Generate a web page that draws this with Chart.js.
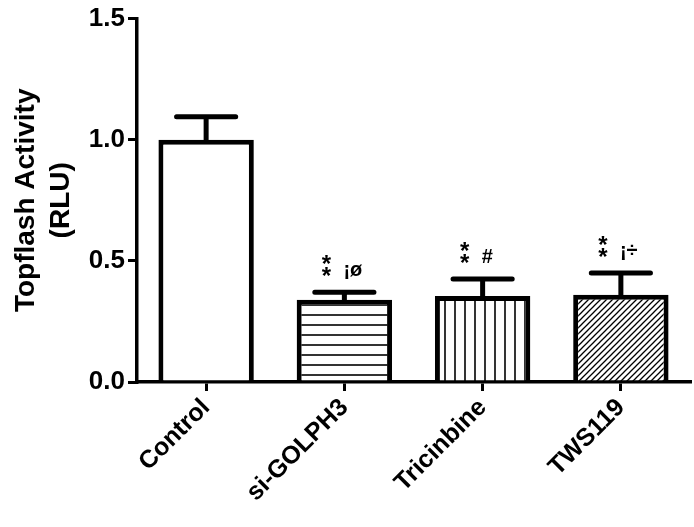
<!DOCTYPE html>
<html>
<head>
<meta charset="utf-8">
<script src="https://cdn.jsdelivr.net/npm/chart.js@4.4.0/dist/chart.umd.min.js"></script>
<style>
  html, body { margin: 0; padding: 0; background: #fff; }
  #wrap { width: 694px; height: 527px; }
</style>
</head>
<body>
<div id="wrap"><canvas id="chart"></canvas></div>
<script>
const categories = ["Control", "si-GOLPH3", "Tricinbine", "TWS119"];
const means = [1.0, 0.34, 0.355, 0.36];
const errors = [0.095, 0.03, 0.07, 0.09];
const hasStars = [false, true, true, true];
const sigMarks = ["", "¡ø", "#", "¡÷"];
const yTicks = [0, 0.5, 1.0, 1.5];

const FONT = "'Liberation Sans', Arial, sans-serif";

function makePattern(kind) {
    const c = document.createElement("canvas");
    const s = kind === "diag" ? 6 : 10;
    c.width = s; c.height = s;
    const g = c.getContext("2d");
    g.fillStyle = "#fff";
    g.fillRect(0, 0, s, s);
    g.strokeStyle = "#000";
    g.lineWidth = kind === "diag" ? 1.3 : 1.6;
    g.beginPath();
    if (kind === "h") { g.moveTo(0, 5); g.lineTo(s, 5); }
    if (kind === "v") { g.moveTo(5, 0); g.lineTo(5, s); }
    if (kind === "diag") {
        g.moveTo(0, s); g.lineTo(s, 0);
        g.moveTo(-1, 1); g.lineTo(1, -1);
        g.moveTo(s - 1, s + 1); g.lineTo(s + 1, s - 1);
    }
    g.stroke();
    return g.createPattern(c, "repeat");
}

const fills = ["#fff", makePattern("h"), makePattern("v"), makePattern("diag")];

// error bars (upper only) + significance marks
const errorBars = {
    id: "errorBars",
    afterDatasetsDraw(chart) {
        const ctx = chart.ctx;
        const y = chart.scales.y;
        const meta = chart.getDatasetMeta(0);
        ctx.save();
        ctx.strokeStyle = "#000";
        ctx.fillStyle = "#000";
        ctx.lineWidth = 5;
        ctx.lineCap = "round";
        meta.data.forEach((bar, i) => {
            const top = y.getPixelForValue(means[i] + errors[i]);
            const base = y.getPixelForValue(means[i]);
            const half = bar.width * 0.31;
            ctx.beginPath();
            ctx.moveTo(bar.x, base);
            ctx.lineTo(bar.x, top);
            ctx.moveTo(bar.x - half, top);
            ctx.lineTo(bar.x + half, top);
            ctx.stroke();
            if (hasStars[i]) {
                ctx.font = "bold 24px " + FONT;
                ctx.textAlign = "center";
                ctx.textBaseline = "middle";
                ctx.fillText("*", bar.x - 18, top - 27);
                ctx.fillText("*", bar.x - 18, top - 15);
                ctx.font = "bold 20px " + FONT;
                ctx.textAlign = "left";
                ctx.textBaseline = "alphabetic";
                ctx.fillText(sigMarks[i], bar.x - 1, top - 16);
            }
        });
        ctx.restore();
    }
};

new Chart(document.getElementById("chart"), {
    type: "bar",
    data: {
        labels: categories,
        datasets: [{
            data: means,
            backgroundColor: fills,
            borderColor: "#000",
            borderWidth: 5,
            borderSkipped: "start",
            categoryPercentage: 1,
            barPercentage: 0.69
        }]
    },
    options: {
        responsive: true,
        maintainAspectRatio: false,
        animation: false,
        layout: { padding: { top: 18, right: 4, left: 9 } },
        plugins: {
            legend: { display: false },
            tooltip: { enabled: false }
        },
        scales: {
            x: {
                grid: {
                    offset: false,
                    drawOnChartArea: false,
                    color: "#000",
                    lineWidth: 3,
                    tickLength: 9
                },
                border: { color: "#000", width: 3.5 },
                ticks: {
                    color: "#000",
                    minRotation: 45,
                    maxRotation: 45,
                    padding: 2,
                    font: { family: FONT, size: 25, weight: "bold" }
                },
                afterFit(scale) { scale.height = 145; }
            },
            y: {
                min: 0,
                max: 1.5,
                afterBuildTicks(scale) { scale.ticks = yTicks.map(v => ({ value: v })); },
                grid: {
                    drawOnChartArea: false,
                    color: "#000",
                    lineWidth: 3,
                    tickLength: 9
                },
                border: { color: "#000", width: 3.5 },
                ticks: {
                    color: "#000",
                    padding: 3,
                    callback: v => v.toFixed(1),
                    font: { family: FONT, size: 26, weight: "bold" }
                },
                title: {
                    display: true,
                    text: ["Topflash Activity", "(RLU)"],
                    color: "#000",
                    padding: 0,
                    font: { family: FONT, size: 28, weight: "bold", lineHeight: 1.25 }
                },
                afterFit(scale) { scale.width = 128; }
            }
        }
    },
    plugins: [errorBars]
});
</script>
</body>
</html>
